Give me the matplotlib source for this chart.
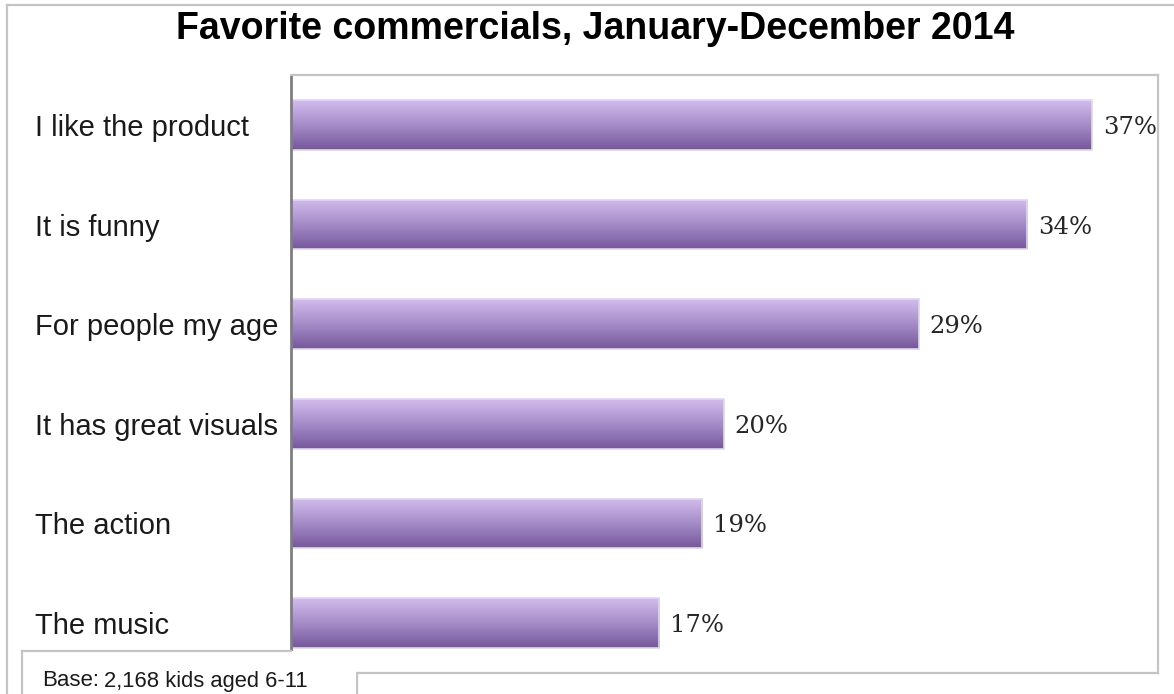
import matplotlib.pyplot as plt
import numpy as np
from matplotlib.colors import LinearSegmentedColormap
from matplotlib.lines import Line2D

categories = [
    "I like the product",
    "It is funny",
    "For people my age",
    "It has great visuals",
    "The action",
    "The music",
]
values = [37, 34, 29, 20, 19, 17]
value_labels = ["37%", "34%", "29%", "20%", "19%", "17%"]
title = "Favorite commercials, January-December 2014"

W, H = 1174, 694


def fx(px):
    return px / W


def fy(py):
    return 1 - py / H


fig = plt.figure(figsize=(W / 100, H / 100), dpi=100)
fig.patch.set_facecolor("white")

ax = fig.add_axes([fx(291), fy(673), fx(1158) - fx(291), fy(75) - fy(673)])
ax.set_xlim(0, 40.05)
ax.set_ylim(5.5, -0.5)

grad = LinearSegmentedColormap.from_list("bar", ["#d2bcec", "#a58cc8", "#76579b"])
img = np.linspace(0, 1, 64).reshape(-1, 1)

y = np.arange(len(categories))
bars = ax.barh(y, values, height=0.5, color="none", edgecolor="#e2d6f0", linewidth=1.2, zorder=3)
for bar, v, yy, lab in zip(bars, values, y, value_labels):
    im = ax.imshow(img, cmap=grad, aspect="auto", extent=[0, v, yy + 0.25, yy - 0.25],
                   origin="upper", zorder=2, interpolation="bicubic")
    im.set_clip_path(bar)
    ax.text(v + 0.5, yy, lab, va="center_baseline", ha="left", fontsize=17.5,
            family="DejaVu Serif", color="#262626")

ax.set_yticks(y)
ax.set_yticklabels(categories, fontsize=21, family="Liberation Sans", color="#1a1a1a")
for t in ax.get_yticklabels():
    t.set_ha("left")
ax.tick_params(axis="y", length=0, pad=256 * 0.72)
ax.set_xticks([])
for side in ["top", "right", "bottom"]:
    ax.spines[side].set_visible(False)
ax.spines["left"].set_color("#7f7f7f")
ax.spines["left"].set_linewidth(2.0)
ax.spines["left"].set_zorder(5)

fig.text(fx(595), fy(29), title, ha="center", va="center", fontsize=27,
         fontweight="bold", family="Liberation Sans", color="black")

# frame lines from the screenshot
frame = "#c4c4c4"
segs = [
    ((7, 7), (5, 694)),
    ((7, 1174), (5, 5)),
    ((291, 1158), (75, 75)),
    ((1158, 1158), (75, 673)),
    ((357, 1158), (673, 673)),
    ((357, 357), (673, 694)),
]
for xs, ys in segs:
    fig.add_artist(Line2D([fx(xs[0]), fx(xs[1])], [fy(ys[0]), fy(ys[1])],
                          transform=fig.transFigure, color=frame, linewidth=1.6))

# white base box covering bottom of the axis line
fig.add_artist(plt.Rectangle((fx(22), 0), fx(356) - fx(22), fy(651), transform=fig.transFigure,
                             facecolor="white", edgecolor="none", zorder=10))
for xs, ys in [((22, 291), (651, 651)), ((22, 22), (651, 694))]:
    fig.add_artist(Line2D([fx(xs[0]), fx(xs[1])], [fy(ys[0]), fy(ys[1])],
                          transform=fig.transFigure, color=frame, linewidth=1.6, zorder=11))
fig.text(fx(42), fy(680), "Base:", ha="left", va="center", fontsize=16,
         family="Liberation Sans", color="#1a1a1a", zorder=12)
fig.text(fx(104), fy(681), "2,168 kids aged 6-11", ha="left", va="center", fontsize=15.8,
         family="Liberation Sans", color="#1a1a1a", zorder=12)

fig.savefig("out.png", dpi=100)
